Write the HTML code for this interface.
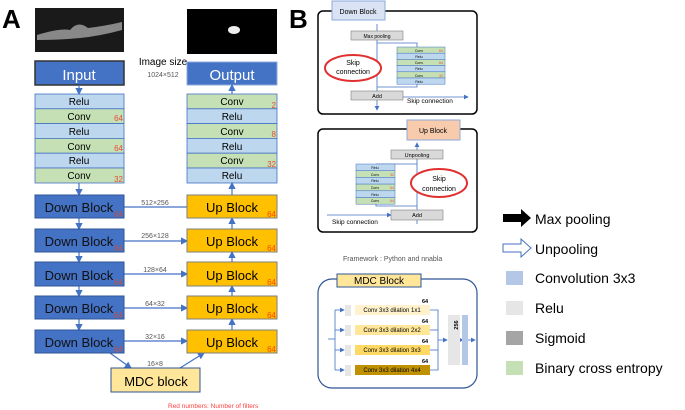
<!DOCTYPE html>
<html><head><meta charset="utf-8"><style>
body{margin:0;background:#fff}
svg{display:block;font-family:"Liberation Sans","Noto Sans CJK JP",sans-serif}
</style></head><body>
<svg width="685" height="410" viewBox="0 0 685 410" xmlns="http://www.w3.org/2000/svg">
<defs>
<marker id="a" markerWidth="6" markerHeight="6" refX="5" refY="3" orient="auto"><path d="M0,0L6,3L0,6z" fill="#4472C4"/></marker>
</defs>
<text x="2" y="28" font-size="26" font-weight="bold">A</text>
<text x="289" y="28" font-size="26" font-weight="bold">B</text>
<rect x="35" y="8" width="89" height="44" fill="#1a1a1a"/>
<path d="M37,35 Q60,28 70,30 Q78,20 88,28 Q105,26 122,22 L122,30 Q100,36 80,38 Q60,40 37,40z" fill="#888"/>
<rect x="187" y="9" width="90" height="45" fill="#000"/>
<ellipse cx="234" cy="30" rx="6" ry="4" fill="#eee"/>
<text x="163" y="65" font-size="10" text-anchor="middle">Image size</text>
<text x="163" y="77" font-size="7" fill="#555" text-anchor="middle">1024×512</text>
<rect x="35" y="61" width="89" height="24" fill="#4472C4" stroke="#333" stroke-width="1.5"/>
<text x="79" y="80" font-size="15" fill="#fff" text-anchor="middle">Input</text>
<rect x="187" y="62" width="90" height="23" fill="#4472C4" stroke="#8eaadb"/>
<text x="232" y="80" font-size="15" fill="#fff" text-anchor="middle">Output</text>
<g font-size="10" text-anchor="middle">
<g stroke="#4472C4" stroke-width="0.8">
<rect x="35" y="94" width="89" height="14.8" fill="#bdd7ee"/><rect x="35" y="108.8" width="89" height="14.8" fill="#c5e0b4"/>
<rect x="35" y="123.6" width="89" height="14.8" fill="#bdd7ee"/><rect x="35" y="138.4" width="89" height="14.8" fill="#c5e0b4"/>
<rect x="35" y="153.2" width="89" height="14.8" fill="#bdd7ee"/><rect x="35" y="168" width="89" height="15" fill="#c5e0b4"/>
<rect x="187" y="94" width="90" height="14.8" fill="#c5e0b4"/><rect x="187" y="108.8" width="90" height="14.8" fill="#bdd7ee"/>
<rect x="187" y="123.6" width="90" height="14.8" fill="#c5e0b4"/><rect x="187" y="138.4" width="90" height="14.8" fill="#bdd7ee"/>
<rect x="187" y="153.2" width="90" height="14.8" fill="#c5e0b4"/><rect x="187" y="168" width="90" height="15" fill="#bdd7ee"/>
</g>
<text x="79" y="105">Relu</text><text x="79" y="120">Conv</text><text x="79" y="135">Relu</text><text x="79" y="150">Conv</text><text x="79" y="164">Relu</text><text x="79" y="179">Conv</text>
<text x="232" y="105">Conv</text><text x="232" y="120">Relu</text><text x="232" y="135">Conv</text><text x="232" y="150">Relu</text><text x="232" y="164">Conv</text><text x="232" y="179">Relu</text>
</g>
<g font-size="8" fill="#e74c3c" text-anchor="end">
<text x="123" y="121">64</text><text x="123" y="151">64</text><text x="123" y="182">32</text>
<text x="276" y="108">2</text><text x="276" y="137">8</text><text x="276" y="167">32</text>
</g>
<g stroke="#4472C4" stroke-width="1.2" fill="none" marker-end="url(#a)">
<line x1="79" y1="85" x2="79" y2="94"/><line x1="79" y1="183" x2="79" y2="195"/>
<line x1="79" y1="218" x2="79" y2="229"/><line x1="79" y1="252" x2="79" y2="262"/><line x1="79" y1="286" x2="79" y2="296"/><line x1="79" y1="319" x2="79" y2="330"/>
<line x1="232" y1="94" x2="232" y2="85"/><line x1="232" y1="195" x2="232" y2="183"/>
<line x1="232" y1="229" x2="232" y2="218"/><line x1="232" y1="262" x2="232" y2="252"/><line x1="232" y1="296" x2="232" y2="286"/><line x1="232" y1="330" x2="232" y2="319"/>
<line x1="124" y1="241" x2="187" y2="241"/><line x1="124" y1="274" x2="187" y2="274"/><line x1="124" y1="308" x2="187" y2="308"/><line x1="124" y1="341" x2="187" y2="341"/>
<line x1="110" y1="353" x2="131" y2="368"/><line x1="180" y1="368" x2="204" y2="353"/>
</g>
<line x1="124" y1="207" x2="187" y2="207" stroke="#4472C4" stroke-width="1.2"/>
<g font-size="7" fill="#555" text-anchor="middle">
<text x="155" y="205">512×256</text><text x="155" y="238">256×128</text><text x="155" y="272">128×64</text><text x="155" y="306">64×32</text><text x="155" y="339">32×16</text><text x="155" y="366">16×8</text>
</g>
<g font-size="13" text-anchor="middle">
<g stroke="#2f5597"><rect x="35" y="195" width="89" height="23" fill="#4472C4"/><rect x="35" y="229" width="89" height="23" fill="#4472C4"/><rect x="35" y="262" width="89" height="24" fill="#4472C4"/><rect x="35" y="296" width="89" height="23" fill="#4472C4"/><rect x="35" y="330" width="89" height="23" fill="#4472C4"/></g>
<g stroke="#7f7f7f"><rect x="187" y="195" width="90" height="23" fill="#ffc000"/><rect x="187" y="229" width="90" height="23" fill="#ffc000"/><rect x="187" y="262" width="90" height="24" fill="#ffc000"/><rect x="187" y="296" width="90" height="23" fill="#ffc000"/><rect x="187" y="330" width="90" height="23" fill="#ffc000"/></g>
<g fill="#111"><text x="79" y="212">Down Block</text><text x="79" y="246">Down Block</text><text x="79" y="280">Down Block</text><text x="79" y="313">Down Block</text><text x="79" y="347">Down Block</text></g>
<text x="232" y="212">Up Block</text><text x="232" y="246">Up Block</text><text x="232" y="280">Up Block</text><text x="232" y="313">Up Block</text><text x="232" y="347">Up Block</text>
<rect x="111" y="368" width="89" height="24" fill="#ffe699" stroke="#2f5597"/>
<text x="156" y="386">MDC block</text>
</g>
<g font-size="8" text-anchor="end"><g fill="#c0504d"><text x="123" y="217">64</text><text x="123" y="251">64</text><text x="123" y="285">64</text><text x="123" y="318">64</text><text x="123" y="352">64</text></g>
<g fill="#ff4500"><text x="276" y="217">64</text><text x="276" y="251">64</text><text x="276" y="285">64</text><text x="276" y="318">64</text><text x="276" y="352">64</text></g></g>
<text x="168" y="408" font-size="6.5" fill="#ff4040">Red numbers: Number of filters</text>

<rect x="318" y="11" width="159" height="103" rx="5" fill="none" stroke="#000" stroke-width="1.5"/>
<rect x="332" y="1" width="53" height="19" fill="#dae3f3" stroke="#8eaadb"/>
<text x="358" y="14" font-size="7" text-anchor="middle">Down Block</text>
<g stroke="#4472C4" stroke-width="0.8" fill="none">
<line x1="377" y1="24" x2="377" y2="110" marker-end="url(#a)"/>
<polyline points="377,43 417,43 417,47"/><polyline points="377,87 417,87 417,84"/>
<line x1="403" y1="97" x2="468" y2="97" marker-end="url(#a)"/>
</g>
<rect x="351" y="31" width="52" height="9" fill="#d9d9d9" stroke="#7f7f7f" stroke-width="0.6"/>
<text x="377" y="38" font-size="5" text-anchor="middle">Max pooling</text>
<g stroke="#4472C4" stroke-width="0.5"><rect x="397" y="47" width="48" height="6.2" fill="#c5e0b4"/><rect x="397" y="53.2" width="48" height="6.2" fill="#bdd7ee"/><rect x="397" y="59.4" width="48" height="6.2" fill="#c5e0b4"/><rect x="397" y="65.6" width="48" height="6.2" fill="#bdd7ee"/><rect x="397" y="71.8" width="48" height="6.2" fill="#c5e0b4"/><rect x="397" y="78" width="48" height="6.2" fill="#bdd7ee"/></g>
<g font-size="3.5" text-anchor="middle"><text x="419" y="52">Conv</text><text x="419" y="58">Relu</text><text x="419" y="64">Conv</text><text x="419" y="70">Relu</text><text x="419" y="77">Conv</text><text x="419" y="83">Relu</text></g>
<g font-size="3.5" fill="#e74c3c"><text x="439" y="52">64</text><text x="439" y="64">64</text><text x="439" y="77">32</text></g>
<ellipse cx="353" cy="68" rx="28" ry="13" fill="#fff" stroke="#e03030" stroke-width="2"/>
<text x="353" y="65" font-size="7" text-anchor="middle">Skip</text><text x="353" y="74" font-size="7" text-anchor="middle">connection</text>
<rect x="351" y="91" width="52" height="9" fill="#d9d9d9" stroke="#7f7f7f" stroke-width="0.6"/>
<text x="377" y="98" font-size="5.5" text-anchor="middle">Add</text>
<text x="407" y="103" font-size="6.5">Skip connection</text>
<rect x="318" y="129" width="159" height="103" rx="5" fill="none" stroke="#000" stroke-width="1.5"/>
<rect x="407" y="120" width="53" height="20" fill="#f8cbad" stroke="#8eaadb"/>
<text x="433" y="133" font-size="7" text-anchor="middle">Up Block</text>
<g stroke="#4472C4" stroke-width="0.8" fill="none">
<line x1="417" y1="224" x2="417" y2="143" marker-end="url(#a)"/>
<polyline points="417,164 376,164"/><polyline points="417,206 376,206 376,204"/>
<line x1="327" y1="215" x2="391" y2="215" marker-end="url(#a)"/>
</g>
<rect x="391" y="150" width="52" height="9" fill="#d9d9d9" stroke="#7f7f7f" stroke-width="0.6"/>
<text x="417" y="157" font-size="5.5" text-anchor="middle">Unpooling</text>
<g stroke="#4472C4" stroke-width="0.5"><rect x="356" y="164" width="39" height="6.7" fill="#bdd7ee"/><rect x="356" y="170.7" width="39" height="6.7" fill="#c5e0b4"/><rect x="356" y="177.4" width="39" height="6.7" fill="#bdd7ee"/><rect x="356" y="184.1" width="39" height="6.7" fill="#c5e0b4"/><rect x="356" y="190.8" width="39" height="6.7" fill="#bdd7ee"/><rect x="356" y="197.5" width="39" height="6.7" fill="#c5e0b4"/></g>
<g font-size="3.5" text-anchor="middle"><text x="375" y="169">Relu</text><text x="375" y="176">Conv</text><text x="375" y="182">Relu</text><text x="375" y="189">Conv</text><text x="375" y="196">Relu</text><text x="375" y="202">Conv</text></g>
<g font-size="3.5" fill="#e74c3c"><text x="390" y="176">32</text><text x="390" y="189">64</text><text x="390" y="202">64</text></g>
<ellipse cx="439" cy="183" rx="28" ry="14" fill="#fff" stroke="#e03030" stroke-width="2"/>
<text x="439" y="181" font-size="7" text-anchor="middle">Skip</text><text x="439" y="191" font-size="7" text-anchor="middle">connection</text>
<rect x="391" y="210" width="52" height="10" fill="#d9d9d9" stroke="#7f7f7f" stroke-width="0.6"/>
<text x="417" y="217" font-size="5.5" text-anchor="middle">Add</text>
<text x="332" y="224" font-size="6.5">Skip connection</text>
<text x="343" y="261" font-size="7" fill="#555">Framework : Python and nnabla</text>
<rect x="318" y="279" width="159" height="109" rx="14" fill="none" stroke="#2f5597" stroke-width="1.2"/>
<rect x="337" y="274" width="84" height="13" fill="#ffe699" stroke="#2f5597"/>
<text x="379" y="284" font-size="10" text-anchor="middle">MDC Block</text>
<g stroke="#4472C4" stroke-width="0.8" fill="none">
<line x1="328" y1="339" x2="335" y2="339"/><line x1="335" y1="310" x2="335" y2="370"/>
<line x1="335" y1="310" x2="344" y2="310" marker-end="url(#a)"/><line x1="335" y1="330" x2="344" y2="330" marker-end="url(#a)"/><line x1="335" y1="350" x2="344" y2="350" marker-end="url(#a)"/><line x1="335" y1="370" x2="344" y2="370" marker-end="url(#a)"/>
<polyline points="430,310 438,310 438,370 430,370"/><line x1="430" y1="330" x2="438" y2="330"/><line x1="430" y1="350" x2="438" y2="350"/>
<line x1="438" y1="340" x2="447" y2="340" marker-end="url(#a)"/><line x1="460" y1="340" x2="463" y2="340" marker-end="url(#a)"/><line x1="467" y1="340" x2="475" y2="340" marker-end="url(#a)"/>
</g>
<g fill="#e7e6e6"><rect x="345" y="305" width="6" height="11"/><rect x="345" y="325" width="6" height="11"/><rect x="345" y="345" width="6" height="11"/><rect x="345" y="365" width="6" height="11"/></g>
<rect x="355" y="305" width="75" height="10" fill="#fff2cc"/><rect x="355" y="325" width="75" height="10" fill="#ffe699"/><rect x="355" y="345" width="75" height="10" fill="#ffd966"/><rect x="355" y="365" width="75" height="10" fill="#bf9000"/>
<g font-size="6" text-anchor="middle"><text x="392" y="312">Conv 3x3 dilation 1x1</text><text x="392" y="332">Conv 3x3 dilation 2x2</text><text x="392" y="352">Conv 3x3 dilation 3x3</text><text x="392" y="372">Conv 3x3 dilation 4x4</text></g>
<g font-size="5.5" font-weight="bold"><text x="422" y="303">64</text><text x="422" y="323">64</text><text x="422" y="343">64</text><text x="422" y="363">64</text></g>
<rect x="448" y="315" width="12" height="50" fill="#e7e6e6"/><rect x="462" y="315" width="6" height="50" fill="#b4c7e7"/>
<text x="458" y="325" font-size="5.5" font-weight="bold" transform="rotate(-90 458 325)" text-anchor="middle">256</text>
<path d="M503,214 H521 V209 L531,218 L521,227 V222 H503z" fill="#000"/>
<path d="M503,244 H521 V239 L531,248 L521,257 V252 H503z" fill="#fff" stroke="#4472C4"/>
<rect x="506" y="271" width="17" height="14" fill="#b4c7e7"/>
<rect x="506" y="301" width="17" height="14" fill="#e7e6e6"/>
<rect x="506" y="331" width="17" height="14" fill="#a5a5a5"/>
<rect x="506" y="361" width="17" height="14" fill="#c5e0b4"/>
<g font-size="14"><text x="535" y="224">Max pooling</text><text x="535" y="254">Unpooling</text><text x="535" y="283">Convolution 3x3</text><text x="535" y="313">Relu</text><text x="535" y="343">Sigmoid</text><text x="535" y="373">Binary cross entropy</text></g>
</svg>
</body></html>
